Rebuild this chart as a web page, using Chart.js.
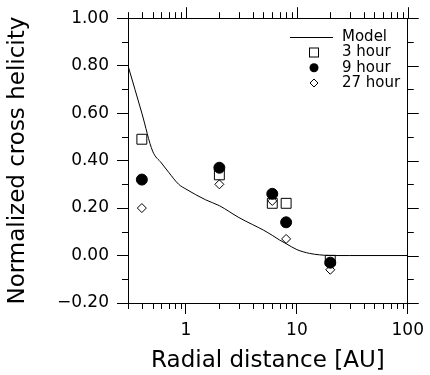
<!DOCTYPE html>
<html>
<head>
<meta charset="utf-8">
<script src="https://cdn.jsdelivr.net/npm/chart.js@4"></script>
<style>
  html, body { margin: 0; padding: 0; background: #fff; }
  #wrap { width: 430px; height: 375px; }
</style>
</head>
<body>
<div id="wrap"><canvas id="chart" width="430" height="375"></canvas></div>
<script>
// model curve
var modelDist = [0.3, 0.4, 0.5, 0.6, 0.7, 0.86, 1.0, 1.5, 2, 3, 4, 5, 6, 7, 8, 10, 13, 16, 20, 30, 100];
var modelHel = [0.80, 0.60, 0.44, 0.39, 0.35, 0.30, 0.28, 0.235, 0.21, 0.16, 0.13, 0.107, 0.085, 0.065, 0.05, 0.025, 0.009, 0.003, 0.0, 0.0, 0.0];

// observations
var obsDist = [0.4, 2, 6, 8, 20];
var hel3h = [0.49, 0.34, 0.22, 0.22, -0.02];
var hel9h = [0.32, 0.37, 0.26, 0.14, -0.03];
var hel27h = [0.20, 0.30, 0.23, 0.07, -0.06];

var seriesNames = ['Model', '3 hour', '9 hour', '27 hour'];
var xMajor = [1, 10, 100];
var xMinor = [0.3, 0.4, 0.5, 0.6, 0.7, 0.8, 0.9, 2, 3, 4, 5, 6, 7, 8, 9, 20, 30, 40, 50, 60, 70, 80, 90];
var yMajor = [-0.2, 0, 0.2, 0.4, 0.6, 0.8, 1.0];
var yMinor = [-0.1, 0.1, 0.3, 0.5, 0.7, 0.9];

function pts(xs, ys) {
    return xs.map(function(x, i) { return { x: x, y: ys[i] }; });
}

var FONT = '"DejaVu Sans", sans-serif';

// minor ticks, the top/right major ticks and the legend box
var extras = {
    id: 'extras',
    afterDraw: function(chart) {
        var ctx = chart.ctx;
        var a = chart.chartArea;
        var sx = chart.scales.x, sy = chart.scales.y;
        ctx.save();
        ctx.strokeStyle = '#000';
        ctx.lineWidth = 1;
        ctx.beginPath();
        xMinor.forEach(function(v) {
            var px = Math.round(sx.getPixelForValue(v)) + 0.5;
            ctx.moveTo(px, a.bottom); ctx.lineTo(px, a.bottom + 6);
            ctx.moveTo(px, a.top); ctx.lineTo(px, a.top - 6);
        });
        xMajor.forEach(function(v) {
            var px = Math.round(sx.getPixelForValue(v)) + 0.5;
            ctx.moveTo(px, a.top); ctx.lineTo(px, a.top - 11);
        });
        yMinor.forEach(function(v) {
            var py = Math.round(sy.getPixelForValue(v)) + 0.5;
            ctx.moveTo(a.left, py); ctx.lineTo(a.left - 6, py);
            ctx.moveTo(a.right, py); ctx.lineTo(a.right + 6, py);
        });
        yMajor.forEach(function(v) {
            var py = Math.round(sy.getPixelForValue(v)) + 0.5;
            ctx.moveTo(a.right, py); ctx.lineTo(a.right + 11, py);
        });
        ctx.stroke();

        // legend
        var lx = 314, tx = 342;
        var rows = [37.5, 52.5, 67.7, 83];
        ctx.font = '15px ' + FONT;
        ctx.fillStyle = '#000';
        ctx.textBaseline = 'middle';
        ctx.textAlign = 'left';
        seriesNames.forEach(function(name, i) {
            ctx.fillText(name, tx, rows[i]);
        });
        ctx.beginPath();
        ctx.moveTo(290, rows[0]); ctx.lineTo(333, rows[0]);
        ctx.stroke();
        ctx.strokeRect(lx - 4.5, rows[1] - 4.5, 9, 9);
        ctx.beginPath();
        ctx.arc(lx, rows[2], 4.5, 0, Math.PI * 2);
        ctx.fill();
        ctx.beginPath();
        ctx.moveTo(lx - 4, rows[3]); ctx.lineTo(lx, rows[3] - 4);
        ctx.lineTo(lx + 4, rows[3]); ctx.lineTo(lx, rows[3] + 4);
        ctx.closePath();
        ctx.stroke();
        ctx.restore();
    }
};

var gridOpts = { drawOnChartArea: false, drawTicks: true, tickLength: 11, color: '#000', lineWidth: 1 };
var borderOpts = { display: true, color: '#000', width: 1 };

function yLabel(v) {
    if (Math.abs(v) < 1e-9) return '0.00';
    return (v < 0 ? '\u2212' : '') + Math.abs(v).toFixed(2);
}

new Chart(document.getElementById('chart'), {
    type: 'scatter',
    data: {
        datasets: [
            {
                label: seriesNames[0],
                type: 'line',
                data: pts(modelDist, modelHel),
                borderColor: '#000',
                borderWidth: 1,
                pointRadius: 0,
                fill: false,
                cubicInterpolationMode: 'monotone'
            },
            {
                label: seriesNames[1],
                data: pts(obsDist, hel3h),
                pointStyle: 'rect',
                pointRadius: 7,
                borderColor: '#000',
                borderWidth: 1,
                backgroundColor: 'rgba(255,255,255,0)'
            },
            {
                label: seriesNames[2],
                data: pts(obsDist, hel9h),
                pointStyle: 'circle',
                pointRadius: 5.5,
                borderColor: '#000',
                borderWidth: 1,
                backgroundColor: '#000'
            },
            {
                label: seriesNames[3],
                data: pts(obsDist, hel27h),
                pointStyle: 'rectRot',
                pointRadius: 4.5,
                borderColor: '#000',
                borderWidth: 1,
                backgroundColor: 'rgba(255,255,255,0)'
            }
        ]
    },
    options: {
        responsive: false,
        animation: false,
        layout: { padding: 0 },
        plugins: { legend: { display: false }, tooltip: { enabled: false } },
        scales: {
            x: {
                type: 'logarithmic', position: 'bottom', min: 0.3, max: 100,
                afterBuildTicks: function(s) { s.ticks = xMajor.map(function(v) { return { value: v }; }); },
                afterFit: function(s) { s.height = 72; },
                ticks: { color: '#000', padding: 6, maxRotation: 0, autoSkip: false,
                         font: { family: FONT, size: 17 },
                         callback: function(v) { return String(v); } },
                grid: gridOpts, border: borderOpts,
                title: { display: true, text: 'Radial distance [AU]', color: '#000',
                         font: { family: FONT, size: 23 }, padding: { top: 0, bottom: 0 } }
            },
            x2: {
                type: 'logarithmic', position: 'top', min: 0.3, max: 100,
                afterFit: function(s) { s.height = 18; },
                ticks: { display: false },
                grid: { display: false }, border: borderOpts
            },
            y: {
                position: 'left', min: -0.2, max: 1.0,
                afterFit: function(s) { s.width = 128; },
                ticks: { stepSize: 0.2, color: '#000', padding: 8,
                         font: { family: FONT, size: 17 },
                         callback: yLabel },
                grid: gridOpts, border: borderOpts,
                title: { display: true, text: 'Normalized cross helicity', color: '#000',
                         font: { family: FONT, size: 23 }, padding: { top: 4, bottom: 0 } }
            },
            y2: {
                position: 'right', min: -0.2, max: 1.0,
                afterFit: function(s) { s.width = 17; },
                ticks: { display: false },
                grid: { display: false }, border: borderOpts
            }
        }
    },
    plugins: [extras]
});
</script>
</body>
</html>
